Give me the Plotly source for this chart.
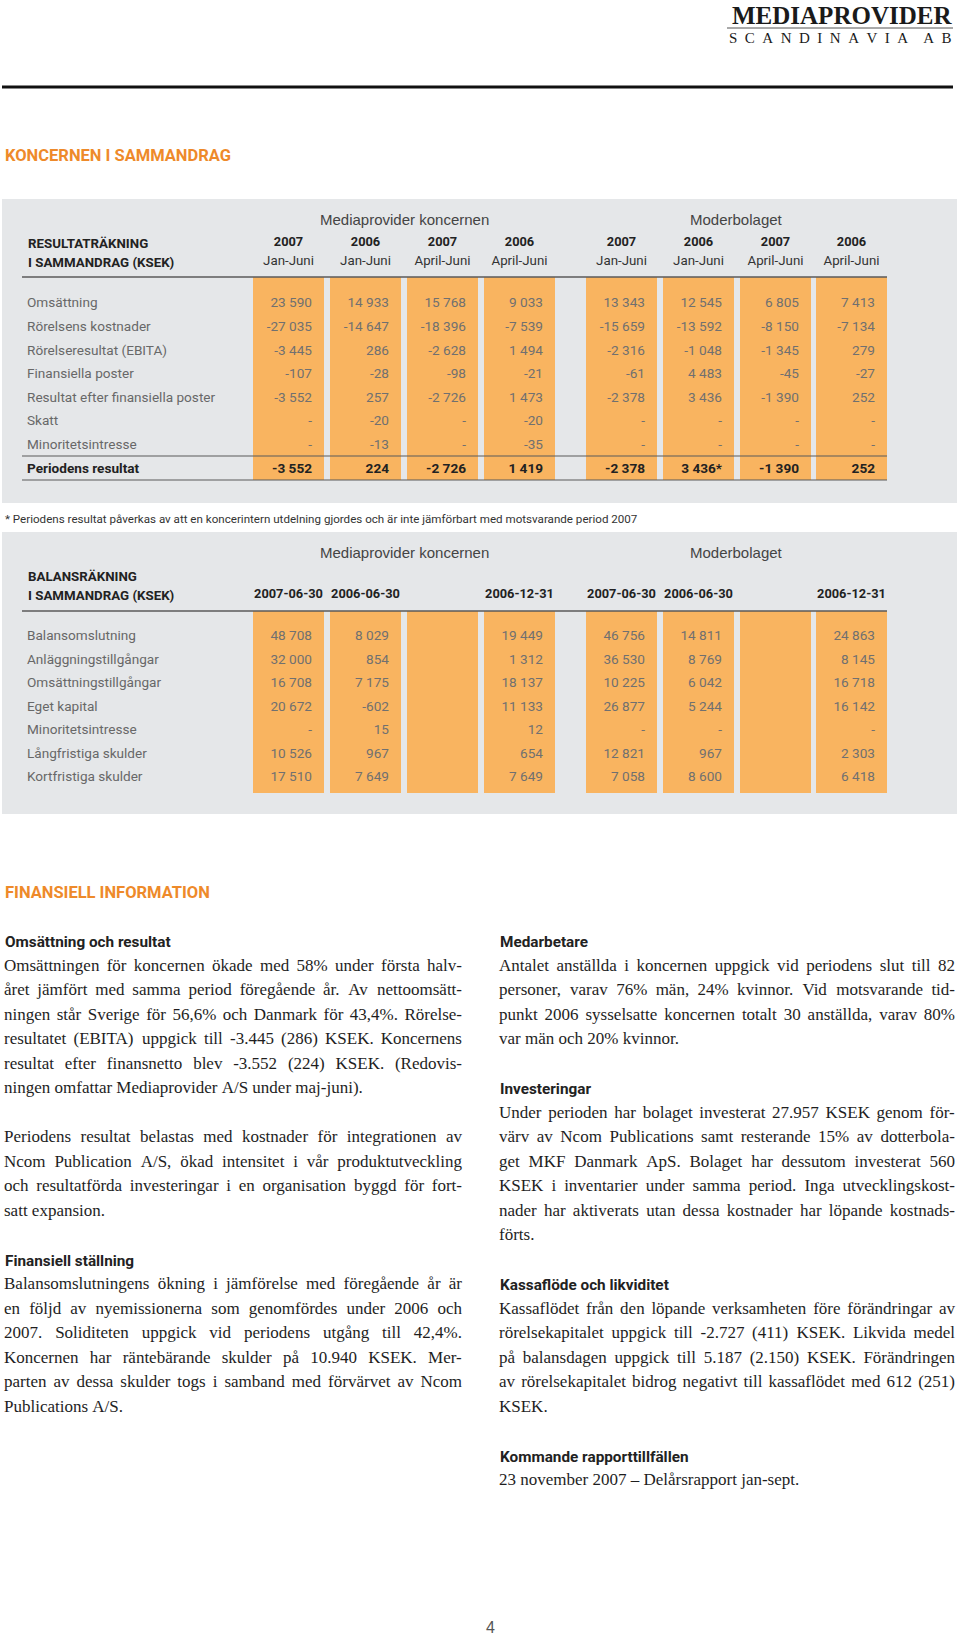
import plotly.graph_objects as go

W, H = 960, 1636

# ---------------- DATA ----------------
income_rows = ["Omsättning", "Rörelsens kostnader", "Rörelseresultat (EBITA)", "Finansiella poster",
               "Resultat efter finansiella poster", "Skatt", "Minoritetsintresse", "Periodens resultat"]
income_years = ["2007", "2006", "2007", "2006", "2007", "2006", "2007", "2006"]
income_periods = ["Jan-Juni", "Jan-Juni", "April-Juni", "April-Juni", "Jan-Juni", "Jan-Juni", "April-Juni", "April-Juni"]
koncern_jan_2007 = ["23 590", "-27 035", "-3 445", "-107", "-3 552", "-", "-", "-3 552"]
koncern_jan_2006 = ["14 933", "-14 647", "286", "-28", "257", "-20", "-13", "224"]
koncern_apr_2007 = ["15 768", "-18 396", "-2 628", "-98", "-2 726", "-", "-", "-2 726"]
koncern_apr_2006 = ["9 033", "-7 539", "1 494", "-21", "1 473", "-20", "-35", "1 419"]
moder_jan_2007 = ["13 343", "-15 659", "-2 316", "-61", "-2 378", "-", "-", "-2 378"]
moder_jan_2006 = ["12 545", "-13 592", "-1 048", "4 483", "3 436", "-", "-", "3 436*"]
moder_apr_2007 = ["6 805", "-8 150", "-1 345", "-45", "-1 390", "-", "-", "-1 390"]
moder_apr_2006 = ["7 413", "-7 134", "279", "-27", "252", "-", "-", "252"]
income_columns = [koncern_jan_2007, koncern_jan_2006, koncern_apr_2007, koncern_apr_2006,
                  moder_jan_2007, moder_jan_2006, moder_apr_2007, moder_apr_2006]

balance_rows = ["Balansomslutning", "Anläggningstillgångar", "Omsättningstillgångar", "Eget kapital",
                "Minoritetsintresse", "Långfristiga skulder", "Kortfristiga skulder"]
balance_dates = ["2007-06-30", "2006-06-30", "", "2006-12-31", "2007-06-30", "2006-06-30", "", "2006-12-31"]
bal_koncern_2007_06 = ["48 708", "32 000", "16 708", "20 672", "-", "10 526", "17 510"]
bal_koncern_2006_06 = ["8 029", "854", "7 175", "-602", "15", "967", "7 649"]
bal_koncern_2006_12 = ["19 449", "1 312", "18 137", "11 133", "12", "654", "7 649"]
bal_moder_2007_06 = ["46 756", "36 530", "10 225", "26 877", "-", "12 821", "7 058"]
bal_moder_2006_06 = ["14 811", "8 769", "6 042", "5 244", "-", "967", "8 600"]
bal_moder_2006_12 = ["24 863", "8 145", "16 718", "16 142", "-", "2 303", "6 418"]
balance_columns = [bal_koncern_2007_06, bal_koncern_2006_06, None, bal_koncern_2006_12,
                   bal_moder_2007_06, bal_moder_2006_06, None, bal_moder_2006_12]

group_labels = ["Mediaprovider koncernen", "Moderbolaget"]

footnote = "* Periodens resultat påverkas av att en koncerintern utdelning gjordes och är inte jämförbart med motsvarande period 2007"

left_text = [
    ("h", "Omsättning och resultat"),
    ("p", "Omsättningen för koncernen ökade med 58% under första halv-"),
    ("p", "året jämfört med samma period föregående år. Av nettoomsätt-"),
    ("p", "ningen står Sverige för 56,6% och Danmark för 43,4%. Rörelse-"),
    ("p", "resultatet (EBITA) uppgick till -3.445 (286) KSEK. Koncernens"),
    ("p", "resultat efter finansnetto blev -3.552 (224) KSEK.  (Redovis-"),
    ("p", "ningen omfattar Mediaprovider A/S under maj-juni)."),
    ("", ""),
    ("p", "Periodens resultat belastas med kostnader för integrationen av"),
    ("p", "Ncom Publication A/S, ökad intensitet i vår produktutveckling"),
    ("p", "och resultatförda investeringar i en organisation byggd för fort-"),
    ("p", "satt expansion."),
    ("", ""),
    ("h", "Finansiell ställning"),
    ("p", "Balansomslutningens ökning i jämförelse med föregående år är"),
    ("p", "en följd av nyemissionerna som genomfördes under 2006 och"),
    ("p", "2007. Soliditeten uppgick vid periodens utgång till 42,4%."),
    ("p", "Koncernen har räntebärande skulder på 10.940 KSEK. Mer-"),
    ("p", "parten av dessa skulder togs i samband med förvärvet av Ncom"),
    ("p", "Publications A/S."),
]
right_text = [
    ("h", "Medarbetare"),
    ("p", "Antalet anställda i koncernen uppgick vid periodens slut till 82"),
    ("p", "personer, varav 76% män, 24% kvinnor. Vid motsvarande tid-"),
    ("p", "punkt 2006 sysselsatte koncernen totalt 30 anställda, varav 80%"),
    ("p", "var män och 20% kvinnor."),
    ("", ""),
    ("h", "Investeringar"),
    ("p", "Under perioden har bolaget investerat 27.957 KSEK genom för-"),
    ("p", "värv av Ncom Publications samt resterande 15% av dotterbola-"),
    ("p", "get MKF Danmark ApS. Bolaget har dessutom investerat 560"),
    ("p", "KSEK i inventarier under samma period. Inga utvecklingskost-"),
    ("p", "nader har aktiverats utan dessa kostnader har löpande kostnads-"),
    ("p", "förts."),
    ("", ""),
    ("h", "Kassaflöde och likviditet"),
    ("p", "Kassaflödet från den löpande verksamheten före förändringar av"),
    ("p", "rörelsekapitalet uppgick till -2.727 (411) KSEK. Likvida medel"),
    ("p", "på balansdagen uppgick till 5.187 (2.150) KSEK. Förändringen"),
    ("p", "av rörelsekapitalet bidrog negativt till kassaflödet med 612 (251)"),
    ("p", "KSEK."),
    ("", ""),
    ("h", "Kommande rapporttillfällen"),
    ("p", "23 november 2007 – Delårsrapport jan-sept."),
]

# ---------------- STYLE / LAYOUT CONSTANTS ----------------
NARROW = "Roboto, sans-serif"
SANS = "Liberation Sans, Arial, sans-serif"
SERIF = "Liberation Serif, Times New Roman, serif"
ORANGE_TXT = "#EE8A2A"
ORANGE_COL = "#F9B460"
GREY_BOX = "#E5E7E9"
NUM_COL = "#707070"
LABEL_COL = "#686868"
DARK = "#222222"

COL_LEFT = [253, 330, 407, 484, 586, 663, 740, 816]
COL_W = 71
NUM_PAD = 12

fig = go.Figure()
shapes = []
ann = []


def rect(x0, x1, y0, y1, color):
    shapes.append(dict(type="rect", xref="x", yref="y", x0=x0, x1=x1, y0=y0, y1=y1,
                       fillcolor=color, line=dict(width=0), layer="below"))


def hline(x0, x1, y, color, width):
    shapes.append(dict(type="line", xref="x", yref="y", x0=x0, x1=x1, y0=y, y1=y,
                       line=dict(color=color, width=width), layer="below"))


def text(x, y, s, size, color, family, anchor="left", bold=False):
    ann.append(dict(x=x, y=y, xref="x", yref="y", text=(f"<b>{s}</b>" if bold else s),
                    showarrow=False, xanchor=anchor, yanchor="middle",
                    font=dict(size=size, color=color, family=family), borderpad=0))


# ---- header / logo ----
text(953, 15, "MEDIAPROVIDER", 25, "#1a1a1a", SERIF, anchor="right", bold=True)
hline(727, 953, 28, "#555555", 1)
EN = "\u2002"
text(953, 38, EN.join("SCANDINAVIA") + EN * 2 + EN.join("AB"), 15, "#1a1a1a", SERIF, anchor="right")
hline(2, 953, 87, "#111111", 3)
text(4, 155, "KONCERNEN I SAMMANDRAG", 16.5, ORANGE_TXT, NARROW, bold=True)


def table(top, bottom, head_y, title_lines, title_y, hdr_line_y, col_bottom, rows, row_y0, row_step,
          columns, hdr_top=None, hdr_bottom=None, total_line=None):
    rect(2, 957, top, bottom, GREY_BOX)
    for cl, col in zip(COL_LEFT, columns):
        rect(cl, cl + COL_W, hdr_line_y, col_bottom, ORANGE_COL)
    hline(22, 887, hdr_line_y, "#5a5a5a", 1.5)
    if total_line:
        for yy in total_line:
            hline(22, 887, yy, "#5a5a5a", 1.2)
    text((COL_LEFT[0] + COL_LEFT[3] + COL_W) / 2, head_y, group_labels[0], 15, "#444444", SANS, anchor="center")
    text((COL_LEFT[4] + COL_LEFT[7] + COL_W) / 2, head_y, group_labels[1], 15, "#444444", SANS, anchor="center")
    for i, t in enumerate(title_lines):
        text(27, title_y[i], t, 13.3, DARK, NARROW, bold=True)
    centers = [cl + COL_W / 2 for cl in COL_LEFT]
    if hdr_top is not None:
        fig.add_trace(go.Scatter(x=centers, y=[hdr_top[1]] * 8, mode="text",
                                 text=[f"<b>{s}</b>" for s in hdr_top[0]], textposition="middle center",
                                 textfont=dict(size=12.8, color=DARK, family=NARROW), hoverinfo="skip"))
    if hdr_bottom is not None:
        fig.add_trace(go.Scatter(x=centers, y=[hdr_bottom[1]] * 8, mode="text",
                                 text=hdr_bottom[0], textposition="middle center",
                                 textfont=dict(size=13.3, color="#333333", family=NARROW), hoverinfo="skip"))
    ys = [row_y0 + i * row_step for i in range(len(rows))]
    n_plain = len(rows) - (1 if total_line else 0)
    labels = [(f"<b>{r}</b>" if i >= n_plain else r) for i, r in enumerate(rows)]
    fig.add_trace(go.Scatter(x=[27] * len(rows), y=ys, mode="text", text=labels,
                             textposition="middle right",
                             textfont=dict(size=13.6, color=[LABEL_COL if i < n_plain else DARK for i in range(len(rows))],
                                           family=NARROW), hoverinfo="skip"))
    for cl, col in zip(COL_LEFT, columns):
        if col is None:
            continue
        vals = [(f"<b>{v}</b>" if i >= n_plain else v) for i, v in enumerate(col)]
        fig.add_trace(go.Scatter(x=[cl + COL_W - NUM_PAD] * len(col), y=ys[:len(col)], mode="text",
                                 text=vals, textposition="middle left",
                                 textfont=dict(size=13.6, color=[NUM_COL if i < n_plain else DARK for i in range(len(col))],
                                               family=NARROW), hoverinfo="skip"))


# income table
table(199, 503, 219, ["RESULTATRÄKNING", "I SAMMANDRAG (KSEK)"], [243, 262], 277, 480,
      income_rows, 304, 23.6, income_columns,
      hdr_top=(income_years, 243), hdr_bottom=(income_periods, 262), total_line=[456, 480])
text(4, 519, footnote, 11.6, "#333333", NARROW)
# balance table
table(532, 814, 552, ["BALANSRÄKNING", "I SAMMANDRAG (KSEK)"], [576, 595], 611, 793,
      balance_rows, 637, 23.5, balance_columns, hdr_top=(balance_dates, 595))

text(4, 892, "FINANSIELL INFORMATION", 16.5, ORANGE_TXT, NARROW, bold=True)

# ---- prose, justified ----
TW = {" ": 250, ".": 250, ",": 250, "-": 333, "(": 333, ")": 333, "%": 833, "/": 278, ":": 278,
      "–": 500, "*": 500, "å": 444, "ä": 444, "ö": 500, "Å": 722, "Ä": 722, "Ö": 722}
TW.update(dict(zip("abcdefghijklmnopqrstuvwxyz",
                   [444, 500, 444, 500, 444, 333, 500, 500, 278, 278, 500, 278, 778, 500, 500, 500, 500, 333,
                    389, 278, 500, 500, 722, 500, 500, 444])))
TW.update(dict(zip("ABCDEFGHIJKLMNOPQRSTUVWXYZ",
                   [722, 667, 667, 722, 611, 556, 722, 722, 333, 389, 722, 611, 889, 722, 722, 556, 722, 667,
                    556, 611, 722, 722, 944, 722, 722, 611])))
for d in "0123456789":
    TW[d] = 500


def em(s):
    return sum(TW.get(c, 500) for c in s) / 1000.0


def fit_size(entries, width):
    best = 17.0
    for i, (k, t) in enumerate(entries):
        if k != "p":
            continue
        words = t.split()
        need = sum(em(w) for w in words) + 0.18 * (len(words) - 1)
        best = min(best, width / need)
    return best


LX, LW = 4, 458
RX, RW = 499, 456
Y0, STEP = 942, 24.5
BODY = min(fit_size(left_text, LW), fit_size(right_text, RW))


def place(entries, x0, width):
    wx, wy, wt = [], [], []
    for i, (k, t) in enumerate(entries):
        y = Y0 + i * STEP
        if k == "h":
            text(x0, y, t, 15.3, DARK, NARROW, bold=True)
        elif k == "p":
            last = i + 1 >= len(entries) or entries[i + 1][0] != "p"
            words = t.split()
            if last or len(words) < 2:
                sp = em(" ") * BODY
            else:
                sp = (width - sum(em(w) for w in words) * BODY) / (len(words) - 1)
            x = x0
            for w in words:
                wx.append(x)
                wy.append(y)
                wt.append(w)
                x += em(w) * BODY + sp
    fig.add_trace(go.Scatter(x=wx, y=wy, mode="text", text=wt, textposition="middle right",
                             textfont=dict(size=BODY, color="#1e1e1e", family=SERIF), hoverinfo="skip"))


place(left_text, LX, LW)
place(right_text, RX, RW)

text(490, 1627, "4", 16, "#555555", SANS, anchor="center")

fig.update_layout(
    width=W, height=H, margin=dict(l=0, r=0, t=0, b=0),
    paper_bgcolor="white", plot_bgcolor="white", showlegend=False,
    xaxis=dict(range=[0, W], visible=False, fixedrange=True),
    yaxis=dict(range=[H, 0], visible=False, fixedrange=True),
    shapes=shapes, annotations=ann,
)
fig.write_html("out.html", config={"displayModeBar": False, "staticPlot": True},
               post_script="document.body.style.margin='0px';document.body.style.overflow='hidden';")
